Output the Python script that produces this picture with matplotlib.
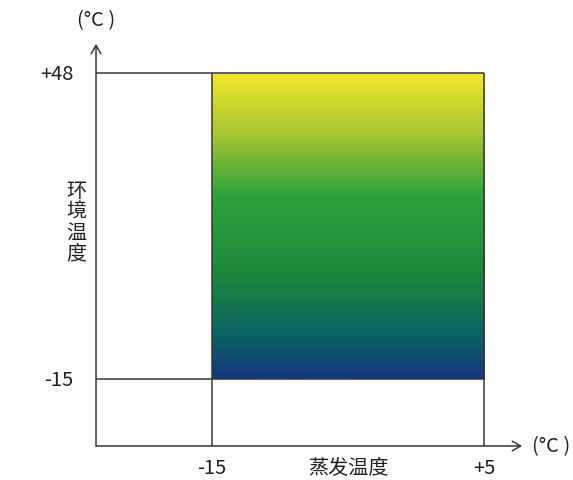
import numpy as np
import matplotlib
matplotlib.use("Agg")
import matplotlib.pyplot as plt
from matplotlib.colors import LinearSegmentedColormap

plt.rcParams['font.family'] = ['Noto Sans CJK SC', 'DejaVu Sans']

# data
evap_range = [-15, 5]          # 蒸发温度
ambient_range = [-15, 48]      # 环境温度
x_tick_labels = ["-15", "+5"]
y_tick_labels = ["-15", "+48"]
x_label = "蒸发温度"
y_label = "环境温度"
unit = "(°C )"
grad_stops = [0.0, 0.15, 0.35, 0.6, 0.8, 1.0]
grad_colors = ["#15367f", "#0a6560", "#1d883c", "#2ea33b", "#a5c533", "#f3e829"]

fig = plt.figure(figsize=(5.73, 4.81), dpi=100)
ax = fig.add_axes([0, 0, 1, 1])
ax.set_xlim(-30.59, 11.54)
ax.set_ylim(-35.79, 63.24)
ax.axis('off')

x0 = -23.53   # y-axis position
y0 = -28.79   # x-axis position
lc = "#3a3636"
lw = 1.1

# gradient rectangle
cmap = LinearSegmentedColormap.from_list("g", list(zip(grad_stops, grad_colors)))
grad = np.linspace(0, 1, 256).reshape(-1, 1)
ax.imshow(grad, cmap=cmap, origin='lower', aspect='auto',
          extent=[evap_range[0], evap_range[1], ambient_range[0], ambient_range[1]], zorder=1)

# axes with arrows
ax.annotate("", xy=(x0, 54.0), xytext=(x0, y0),
            arrowprops=dict(arrowstyle="->,head_width=0.35,head_length=0.6", color=lc, lw=lw,
                            shrinkA=0, shrinkB=0))
ax.annotate("", xy=(7.8, y0), xytext=(x0, y0),
            arrowprops=dict(arrowstyle="->,head_width=0.35,head_length=0.6", color=lc, lw=lw,
                            shrinkA=0, shrinkB=0))

# guide lines
for yv in ambient_range:
    ax.plot([x0, evap_range[1]], [yv, yv], color=lc, lw=lw, zorder=3, solid_capstyle='butt')
for xv in evap_range:
    ax.plot([xv, xv], [y0, ambient_range[1]], color=lc, lw=lw, zorder=3, solid_capstyle='butt')

fs = 14.5
tc = "#231f20"
# y tick labels
for yv, lab in zip(ambient_range, y_tick_labels):
    ax.text(-25.2, yv, lab, ha='right', va='center', fontsize=fs, color=tc)
# x tick labels
for xv, lab in zip(evap_range, x_tick_labels):
    ax.text(xv, -33.2, lab, ha='center', va='center', fontsize=fs, color=tc)
ax.text((evap_range[0] + evap_range[1]) / 2, -33.2, x_label, ha='center', va='center',
        fontsize=fs, color=tc)
# y label stacked vertically
ax.text(-25.0, 17.4, "\n".join(y_label), ha='center', va='center', fontsize=fs,
        color=tc, linespacing=0.98)
# units
ax.text(x0, 59.0, unit, ha='center', va='center', fontsize=fs, color=tc)
ax.text(9.95, y0, unit, ha='center', va='center', fontsize=fs, color=tc)

fig.savefig("out.png", dpi=100)
